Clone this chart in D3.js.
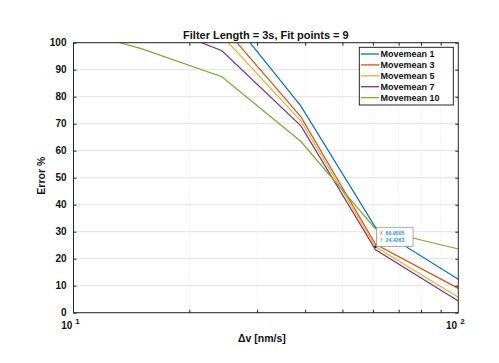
<!DOCTYPE html>
<html>
<head>
<meta charset="utf-8">
<script src="https://cdn.jsdelivr.net/npm/d3@7"></script>
<style>
  body { margin: 0; background: #fff; }
  text { font-family: "Liberation Sans", Arial, sans-serif; }
</style>
</head>
<body>
<svg width="499" height="363"></svg>
<script>
// data
var dv = [9.5, 15, 24.3, 39, 60.9505, 100];
var mm1 = [140, 125, 113, 76.5, 31.5, 12.4];
var mm3 = [130, 118, 106.5, 72.5, 25.3, 9.0];
var mm5 = [125, 112, 102.6, 71, 24.4263, 5.7];
var mm7 = [120, 109, 97, 69.2, 23.3, 4.3];
var mm10 = [105.7, 97.8, 87.4, 63.4, 31, 23.6];
var names = ["Movemean 1", "Movemean 3", "Movemean 5", "Movemean 7", "Movemean 10"];
var colors = ["#0072bd", "#d95319", "#edb120", "#7e2f8e", "#77ac30"];
var yTicks = [0, 10, 20, 30, 40, 50, 60, 70, 80, 90, 100];
var xMinor = [20, 30, 40, 50, 60, 70, 80, 90];

var series = [mm1, mm3, mm5, mm7, mm10];

var pl = 73.5, pr = 458.3, pt = 42.7, pb = 312.7;
var x = d3.scaleLog().domain([10, 100]).range([pl, pr]).base(10);
var y = d3.scaleLinear().domain([0, 100]).range([pb, pt]);

var svg = d3.select("svg");

svg.append("defs").append("clipPath").attr("id", "clip")
  .append("rect").attr("x", pl).attr("y", pt)
  .attr("width", pr - pl).attr("height", pb - pt);

// grid
svg.append("g").selectAll("line").data(yTicks).enter().append("line")
  .attr("x1", pl).attr("x2", pr)
  .attr("y1", d => y(d)).attr("y2", d => y(d))
  .attr("stroke", "#e3e3e3").attr("stroke-width", 1);

svg.append("g").selectAll("line").data(xMinor).enter().append("line")
  .attr("x1", d => x(d)).attr("x2", d => x(d))
  .attr("y1", pt).attr("y2", pb)
  .attr("stroke", "#dcdcdc").attr("stroke-width", 0.7)
  .attr("stroke-dasharray", "1,1.5");

// lines
var line = d3.line().x((d, i) => x(dv[i])).y(d => y(d));
svg.append("g").attr("clip-path", "url(#clip)")
  .selectAll("path").data(series).enter().append("path")
  .attr("d", d => line(d))
  .attr("fill", "none")
  .attr("stroke", (d, i) => colors[i])
  .attr("stroke-width", 1.2);

// box + ticks
var axisCol = "#262626";
svg.append("rect").attr("x", pl).attr("y", pt)
  .attr("width", pr - pl).attr("height", pb - pt)
  .attr("fill", "none").attr("stroke", axisCol).attr("stroke-width", 1);

svg.append("g").attr("transform", "translate(" + pl + ",0)")
  .call(d3.axisLeft(y).tickValues(yTicks).tickSize(-3).tickPadding(7).tickFormat(d3.format("d")))
  .call(g => g.select(".domain").remove())
  .call(g => g.selectAll("line").attr("stroke", axisCol))
  .call(g => g.selectAll("text").attr("font-size", 10).attr("font-weight", "bold").attr("fill", "#111")
    .attr("font-family", "Liberation Sans, Arial, sans-serif"));

svg.append("g").attr("transform", "translate(" + pr + ",0)")
  .call(d3.axisRight(y).tickValues(yTicks).tickSize(-3).tickFormat(""))
  .call(g => g.select(".domain").remove())
  .call(g => g.selectAll("line").attr("stroke", axisCol));

svg.append("g").attr("transform", "translate(0," + pb + ")")
  .call(d3.axisBottom(x).tickValues(xMinor).tickSize(-3).tickFormat(""))
  .call(g => g.select(".domain").remove())
  .call(g => g.selectAll("line").attr("stroke", axisCol));

svg.append("g").attr("transform", "translate(0," + pt + ")")
  .call(d3.axisTop(x).tickValues(xMinor).tickSize(-3).tickFormat(""))
  .call(g => g.select(".domain").remove())
  .call(g => g.selectAll("line").attr("stroke", axisCol));

// x major tick labels 10^1, 10^2
[[10, "1"], [100, "2"]].forEach(function (t) {
  var tx = svg.append("text").attr("x", x(t[0]) - 3).attr("y", 329)
    .attr("text-anchor", "middle").attr("font-size", 10).attr("font-weight", "bold").attr("fill", "#111");
  tx.append("tspan").text("10");
  tx.append("tspan").attr("dx", 3).attr("dy", -5).attr("font-size", 8).text(t[1]);
});

// title and labels
svg.append("text").attr("x", (pl + pr) / 2).attr("y", 39)
  .attr("text-anchor", "middle").attr("font-size", 11).attr("font-weight", "bold").attr("fill", "#111")
  .text("Filter Length = 3s, Fit points = 9");

svg.append("text").attr("x", (pl + pr) / 2 - 4).attr("y", 342)
  .attr("text-anchor", "middle").attr("font-size", 10.5).attr("font-weight", "bold").attr("fill", "#111")
  .text("\u0394v [nm/s]");

svg.append("text").attr("transform", "translate(45," + ((pt + pb) / 2 - 2) + ") rotate(-90)")
  .attr("text-anchor", "middle").attr("font-size", 10.5).attr("font-weight", "bold").attr("fill", "#111")
  .text("Error %");

// legend
var lg = svg.append("g");
lg.append("rect").attr("x", 359.3).attr("y", 47.3).attr("width", 94).attr("height", 57.7)
  .attr("fill", "#fff").attr("stroke", "#111").attr("stroke-width", 0.9);
var rows = lg.selectAll("g.row").data(names).enter().append("g")
  .attr("transform", (d, i) => "translate(0," + (54 + i * 10.9) + ")");
rows.append("line").attr("x1", 361).attr("x2", 379).attr("y1", 0).attr("y2", 0)
  .attr("stroke", (d, i) => colors[i]).attr("stroke-width", 1.3);
rows.append("text").attr("x", 380.5).attr("y", 3.4)
  .attr("font-size", 9).attr("font-weight", "bold").attr("fill", "#111")
  .text(d => d);

// data tip on Movemean 5 at the 5th sample
var px = x(dv[4]), py = y(mm5[4]);
svg.append("circle").attr("cx", px).attr("cy", py).attr("r", 1.3).attr("fill", "#222");
var tip = svg.append("g").attr("transform", "translate(" + (px + 1) + "," + (py - 19.5) + ")");
tip.append("rect").attr("width", 36.5).attr("height", 19.3)
  .attr("fill", "#fff").attr("stroke", "#888").attr("stroke-width", 0.7);
[["X", d3.format(".4f")(dv[4])], ["Y", d3.format(".4f")(mm5[4])]].forEach(function (r, i) {
  var t = tip.append("text").attr("x", 3).attr("y", 8 + i * 6.6).attr("font-size", 5.2);
  t.append("tspan").attr("fill", "#777").text(r[0]);
  t.append("tspan").attr("dx", 2.5).attr("fill", "#1e90ff").attr("font-weight", "bold").text(r[1]);
});
</script>
</body>
</html>
